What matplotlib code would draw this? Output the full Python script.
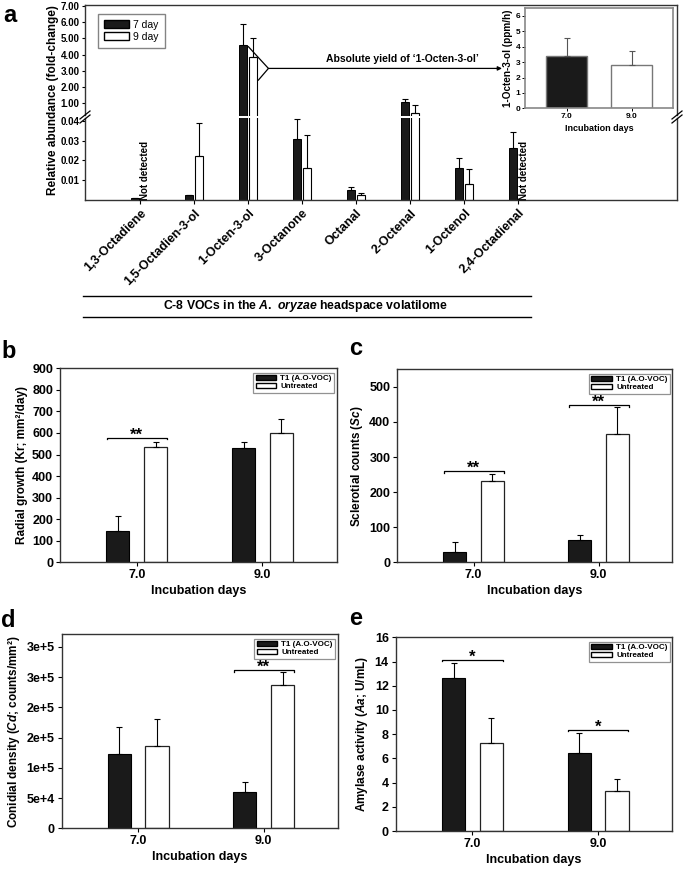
import numpy as np
import matplotlib
matplotlib.use('Agg')
import matplotlib.pyplot as plt
from matplotlib.patches import Patch
from matplotlib.lines import Line2D

plt.rcParams['font.family'] = ['Liberation Sans', 'DejaVu Sans']
plt.rcParams['font.weight'] = 'bold'
plt.rcParams['axes.labelweight'] = 'bold'
plt.rcParams['mathtext.fontset'] = 'custom'
plt.rcParams['mathtext.it'] = 'Liberation Sans:italic:bold'
plt.rcParams['mathtext.rm'] = 'Liberation Sans:bold'
plt.rcParams['mathtext.bf'] = 'Liberation Sans:bold'

# ---- data: panel a (C-8 VOCs, fold change) ----
compounds = ['1,3-Octadiene', '1,5-Octadien-3-ol', '1-Octen-3-ol', '3-Octanone',
             'Octanal', '2-Octenal', '1-Octenol', '2,4-Octadienal']
day7 = [0.0013, 0.0027, 4.57, 0.031, 0.005, 1.08, 0.016, 0.0265]
day7_err = [0, 0, 1.30, 0.010, 0.0015, 0.17, 0.0055, 0.008]
day9 = [np.nan, 0.0225, 3.83, 0.016, 0.0026, 0.40, 0.008, np.nan]
day9_err = [0, 0.0165, 1.17, 0.0166, 0.0009, 0.52, 0.0076, 0]
not_detected = [0, 7]

# inset: absolute yield of 1-octen-3-ol (ppm/h)
inset_days = [7, 9]
inset_yield = [3.4, 2.81]
inset_err = [1.18, 0.91]

# ---- data: panels b-e ----
days = [7, 9]
day_labels = ['7.0', '9.0']

kr_t1 = [147, 530]
kr_t1_err = [69, 27]
kr_un = [537, 601]
kr_un_err = [20, 65]
kr_sig = [(7, 578, '**')]

sc_t1 = [30, 63]
sc_t1_err = [29, 15]
sc_un = [232, 365]
sc_un_err = [19, 78]
sc_sig = [(7, 260, '**'), (9, 448, '**')]

cd_t1 = [123000, 60700]
cd_t1_err = [44500, 16600]
cd_un = [136500, 236500]
cd_un_err = [45000, 22000]
cd_sig = [(9, 262000, '**')]
cd_ticklabels = ['0', '5e+4', '1e+5', '2e+5', '2e+5', '3e+5', '3e+5']

aa_t1 = [12.65, 6.43]
aa_t1_err = [1.25, 1.65]
aa_un = [7.3, 3.3]
aa_un_err = [2.0, 1.0]
aa_sig = [(7, 14.15, '*'), (9, 8.35, '*')]

W, H = 685, 874
fig = plt.figure(figsize=(W / 100, H / 100), dpi=100)


def fx(px):
    return px / W


def fy(py):
    return 1 - py / H


# ================= panel a =================
x = np.arange(len(compounds))
bw = 0.15
off = 0.09
ax_up = fig.add_axes([fx(85), fy(115.5), fx(592), (115.5 - 5) / H])
ax_lo = fig.add_axes([fx(85), fy(200.2), fx(592), (200.2 - 118) / H])

for ax in (ax_up, ax_lo):
    ax.bar(x - off, day7, bw, color='#1a1a1a', edgecolor='black', lw=0.7)
    ax.bar(x + off, day9, bw, color='white', edgecolor='black', lw=0.8)
    ax.errorbar(x - off, day7, yerr=[np.zeros(8), day7_err], fmt='none',
                ecolor='black', elinewidth=0.8, capsize=2.5, capthick=0.8)
    ax.errorbar(x + off, day9, yerr=[np.zeros(8), day9_err], fmt='none',
                ecolor='black', elinewidth=0.8, capsize=2.5, capthick=0.8)
    ax.set_xlim(-1.02, 9.94)
    for s in ax.spines.values():
        s.set_linewidth(1.0)
        s.set_color('#333333')
    ax.tick_params(axis='y', labelsize=7, length=2.5, width=0.8, pad=1.5)

ax_up.set_ylim(0.247, 7.06)
ax_up.set_yticks(range(1, 8))
ax_up.set_yticklabels(['%.2f' % v for v in range(1, 8)])
ax_up.spines['bottom'].set_visible(False)
ax_up.tick_params(axis='x', bottom=False, labelbottom=False)

ax_lo.set_ylim(0, 0.0414)
ax_lo.set_yticks([0.01, 0.02, 0.03, 0.04])
ax_lo.set_yticklabels(['0.01', '0.02', '0.03', '0.04'])
ax_lo.spines['top'].set_visible(False)
ax_lo.set_xticks(x)
ax_lo.set_xticklabels(compounds, rotation=45, ha='right', va='top',
                      rotation_mode='anchor', fontsize=9)
ax_lo.tick_params(axis='x', length=3, width=0.8, pad=2)

for i in not_detected:
    ax_lo.text(x[i] + 0.1, 0.0003, 'Not detected', rotation=90,
               ha='center', va='bottom', fontsize=7)

fig.text(fx(53), fy(100), 'Relative abundance (fold-change)', rotation=90,
         ha='center', va='center', fontsize=8.5)

# axis break marks
for xb in (85, 677):
    for dy in (-2, 2):
        fig.add_artist(Line2D([fx(xb - 5), fx(xb + 5)],
                              [fy(121 + dy), fy(113 + dy)],
                              color='black', lw=0.9))

leg = ax_up.legend(handles=[Patch(facecolor='#1a1a1a', edgecolor='black', label='7 day'),
                            Patch(facecolor='white', edgecolor='black', label='9 day')],
                   loc='upper left', bbox_to_anchor=(0.014, 0.965),
                   prop={'size': 7.5, 'weight': 'normal'}, fancybox=False,
                   edgecolor='#666666', handlelength=2.4, handleheight=0.75,
                   labelspacing=0.2, borderpad=0.55, handletextpad=0.4)
leg.get_frame().set_linewidth(1.0)

# bracket + arrow to the inset
ax_up.plot([2.005, 2.376, 2.19], [4.49, 3.15, 2.43], color='black', lw=0.9)
ax_up.annotate('', xy=(6.70, 3.15), xytext=(2.376, 3.15),
               arrowprops=dict(arrowstyle='-|>', color='black', lw=0.9,
                               mutation_scale=6, shrinkA=0, shrinkB=0))
ax_up.text(4.85, 3.45, 'Absolute yield of \u20181-Octen-3-ol\u2019',
           ha='center', va='bottom', fontsize=7.5)

# inset
ax_in = fig.add_axes([fx(525), fy(108.3), fx(147.7), 100 / H])
ax_in.bar(inset_days, inset_yield, 1.25, color=['#1a1a1a', 'white'],
          edgecolor='#777777', lw=1.0)
ax_in.errorbar(inset_days, inset_yield, yerr=[np.zeros(2), inset_err], fmt='none',
               ecolor='#555555', elinewidth=0.8, capsize=2.5, capthick=0.8)
ax_in.set_xlim(5.72, 10.26)
ax_in.set_ylim(0, 6.5)
ax_in.set_yticks(range(0, 7))
ax_in.set_xticks(inset_days)
ax_in.set_xticklabels(day_labels)
ax_in.tick_params(labelsize=6, length=2, width=0.7, pad=1.5)
ax_in.set_ylabel('1-Octen-3-ol (ppm/h)', fontsize=7.2, labelpad=2)
ax_in.set_xlabel('Incubation days', fontsize=6.5, labelpad=3)
for s in ax_in.spines.values():
    s.set_color('#888888')
    s.set_linewidth(1.2)

# caption lines under panel a
fig.add_artist(Line2D([fx(82.7), fx(530.7)], [fy(296), fy(296)], color='black', lw=1.0))
fig.add_artist(Line2D([fx(82.7), fx(530.7)], [fy(316.7), fy(316.7)], color='black', lw=1.0))
fig.text(fx(306), fy(306.5), r'C-8 VOCs in the $\mathit{A.\ oryzae}$ headspace volatilome',
         ha='center', va='center', fontsize=8.8)


# ================= panels b-e =================
def bar_panel(rect, t1, t1e, un, une, ylim, yticks, ylabel, sig, ticklabels=None):
    ax = fig.add_axes(rect)
    xd = np.array(days, dtype=float)
    ax.bar(xd - 0.3, t1, 0.37, color='#1a1a1a', edgecolor='black', lw=0.8)
    ax.bar(xd + 0.3, un, 0.37, color='white', edgecolor='#222222', lw=0.9)
    ax.errorbar(xd - 0.3, t1, yerr=[np.zeros(2), t1e], fmt='none', ecolor='black',
                elinewidth=0.8, capsize=2.5, capthick=0.8)
    ax.errorbar(xd + 0.3, un, yerr=[np.zeros(2), une], fmt='none', ecolor='black',
                elinewidth=0.8, capsize=2.5, capthick=0.8)
    ax.set_xlim(5.78, 10.18)
    ax.set_ylim(*ylim)
    ax.set_yticks(yticks)
    if ticklabels is not None:
        ax.set_yticklabels(ticklabels)
    ax.set_xticks(days)
    ax.set_xticklabels(day_labels)
    ax.tick_params(labelsize=9, length=3, width=0.8, pad=2)
    ax.set_ylabel(ylabel, fontsize=8.5, labelpad=3)
    ax.set_xlabel('Incubation days', fontsize=9, labelpad=3)
    for s in ax.spines.values():
        s.set_color('#333333')
        s.set_linewidth(1.0)
    dh = (ylim[1] - ylim[0]) * 0.008
    for d, h, stars in sig:
        ax.plot([d - 0.48, d - 0.48, d + 0.48, d + 0.48], [h - dh, h, h, h - dh],
                color='black', lw=0.9)
        ax.text(d, h - dh * 3, stars, ha='center', va='bottom', fontsize=12)
    lg = ax.legend(handles=[Patch(facecolor='#1a1a1a', edgecolor='black', label='T1 (A.O-VOC)'),
                            Patch(facecolor='white', edgecolor='black', label='Untreated')],
                   loc='upper right', bbox_to_anchor=(1.0, 0.99), prop={'size': 5.8},
                   fancybox=False, edgecolor='#777777', handlelength=2.6,
                   handleheight=0.5, labelspacing=0.12, borderpad=0.3,
                   handletextpad=0.5, borderaxespad=0.3)
    lg.get_frame().set_linewidth(0.9)
    return ax


bar_panel([fx(60), fy(562.3), fx(276.7), 194 / H], kr_t1, kr_t1_err, kr_un, kr_un_err,
          (0, 900), range(0, 901, 100), 'Radial growth (Kr; mm\u00b2/day)', kr_sig)
bar_panel([fx(397.3), fy(562.3), fx(275), 193 / H], sc_t1, sc_t1_err, sc_un, sc_un_err,
          (0, 550), range(0, 501, 100), r'Sclerotial counts ($\mathit{Sc}$)', sc_sig)
bar_panel([fx(61.7), fy(828.3), fx(276), 194 / H], cd_t1, cd_t1_err, cd_un, cd_un_err,
          (0, 321000), range(0, 300001, 50000), 'Conidial density ($\\mathit{Cd}$; counts/mm\u00b2)',
          cd_sig, ticklabels=cd_ticklabels)
bar_panel([fx(395.7), fy(831), fx(276.6), 193.7 / H], aa_t1, aa_t1_err, aa_un, aa_un_err,
          (0, 16), range(0, 17, 2), r'Amylase activity ($\mathit{Aa}$; U/mL)', aa_sig)

# panel letters
for lab, px, py in [('a', 3, 21.7), ('b', 1, 358), ('c', 349, 355), ('d', 1, 627), ('e', 349, 625)]:
    fig.text(fx(px), fy(py), lab, fontsize=17, ha='left', va='baseline')

fig.savefig('out.png', dpi=100)
